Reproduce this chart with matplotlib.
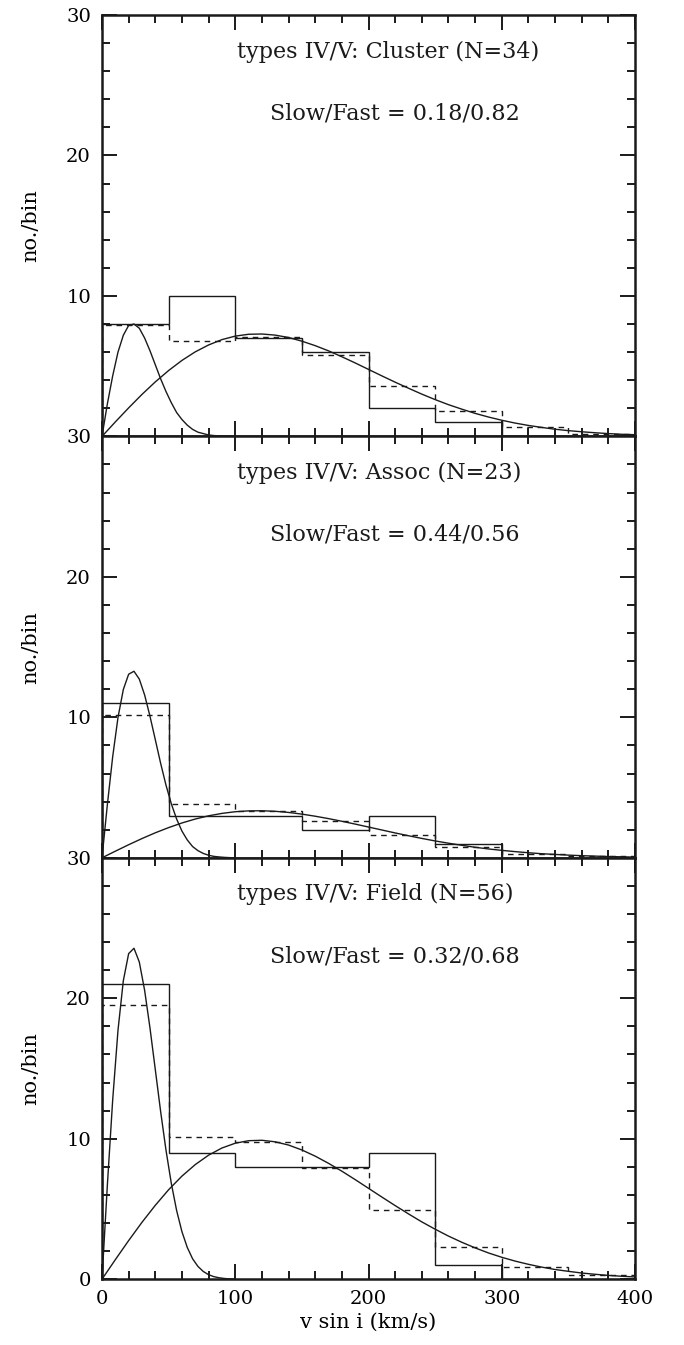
import numpy as np
import matplotlib
matplotlib.use('Agg')
import matplotlib.pyplot as plt
from matplotlib.ticker import MultipleLocator

plt.rcParams['font.family'] = ['DejaVu Serif']

# histogram bin edges (km/s)
edges = [0, 50, 100, 150, 200, 250, 300, 350, 400]

# observed counts (solid) and model counts (dashed) per panel
cluster_obs = [8, 10, 7, 6, 2, 1, 0, 0]
cluster_mod = [7.9, 6.8, 7.1, 5.8, 3.6, 1.8, 0.7, 0.2]
assoc_obs = [11, 3, 3, 2, 3, 1, 0, 0]
assoc_mod = [10.2, 3.8, 3.3, 2.6, 1.6, 0.8, 0.3, 0.1]
field_obs = [21, 9, 8, 8, 9, 1, 0, 0]
field_mod = [19.5, 10.1, 9.8, 7.9, 4.9, 2.3, 0.85, 0.3]

# slow component curves, read at v = 0, 4, ..., 100
v_slow = list(range(0, 101, 4))
cluster_slow = [0, 2.3, 4.3, 6.0, 7.2, 7.9, 8.0, 7.7, 7.0, 6.1, 5.1, 4.1, 3.2,
                2.4, 1.7, 1.2, 0.8, 0.5, 0.3, 0.2, 0.1, 0.06, 0.03, 0.02, 0.01, 0.0]
assoc_slow = [0, 3.76, 7.18, 9.99, 11.98, 13.07, 13.28, 12.72, 11.59, 10.08, 8.41,
              6.73, 5.18, 3.85, 2.76, 1.90, 1.27, 0.80, 0.51, 0.31, 0.18, 0.10,
              0.06, 0.03, 0.01, 0.0]
field_slow = [0, 6.66, 12.74, 17.72, 21.25, 23.18, 23.56, 22.58, 20.56, 17.89,
              14.92, 11.94, 9.20, 6.83, 4.89, 3.38, 2.26, 1.45, 0.91, 0.55, 0.32,
              0.18, 0.10, 0.05, 0.02, 0.01]

# fast component curves, read at v = 0, 10, ..., 400
v_fast = list(range(0, 401, 10))
cluster_fast = [0, 1.03, 2.03, 2.99, 3.88, 4.69, 5.41, 6.02, 6.51, 6.89, 7.14, 7.27,
                7.29, 7.21, 7.04, 6.78, 6.46, 6.09, 5.67, 5.23, 4.77, 4.31, 3.86,
                3.43, 3.01, 2.62, 2.26, 1.94, 1.64, 1.38, 1.15, 0.95, 0.78, 0.64,
                0.51, 0.41, 0.33, 0.26, 0.20, 0.15, 0.12]
assoc_fast = [0, 0.47, 0.93, 1.37, 1.78, 2.15, 2.48, 2.76, 2.99, 3.16, 3.28, 3.34,
              3.35, 3.31, 3.23, 3.11, 2.96, 2.79, 2.60, 2.40, 2.19, 1.98, 1.77,
              1.57, 1.38, 1.20, 1.04, 0.89, 0.75, 0.63, 0.53, 0.44, 0.36, 0.29,
              0.24, 0.19, 0.15, 0.12, 0.09, 0.07, 0.05]
field_fast = [0, 1.39, 2.75, 4.05, 5.26, 6.37, 7.34, 8.16, 8.83, 9.34, 9.68, 9.86,
              9.89, 9.78, 9.55, 9.20, 8.76, 8.25, 7.69, 7.09, 6.47, 5.85, 5.24,
              4.65, 4.08, 3.56, 3.07, 2.63, 2.23, 1.87, 1.56, 1.29, 1.06, 0.86,
              0.69, 0.56, 0.44, 0.35, 0.27, 0.21, 0.16]

titles = ['types IV/V: Cluster (N=34)', 'types IV/V: Assoc (N=23)',
          'types IV/V: Field (N=56)']
ratios = ['Slow/Fast = 0.18/0.82', 'Slow/Fast = 0.44/0.56',
          'Slow/Fast = 0.32/0.68']

panels = [
    (cluster_obs, cluster_mod, cluster_slow, cluster_fast),
    (assoc_obs, assoc_mod, assoc_slow, assoc_fast),
    (field_obs, field_mod, field_slow, field_fast),
]

fig = plt.figure(figsize=(6.84, 13.45), dpi=100)
left, width = 102 / 684, 533 / 684
top = 1 - 15 / 1345
ph = 421.4 / 1345

ink = '#1a1a1a'
for i, (obs, mod, slow, fast) in enumerate(panels):
    ax = fig.add_axes([left, top - (i + 1) * ph, width, ph])
    ax.stairs(obs, edges, color=ink, lw=1.0)
    ax.stairs(mod, edges, color=ink, lw=1.0, linestyle=(0, (4, 3.5)))
    ax.plot(v_slow, slow, color=ink, lw=1.0)
    ax.plot(v_fast, fast, color=ink, lw=1.0)

    ax.set_xlim(0, 400)
    ax.set_ylim(0, 30)
    ax.xaxis.set_major_locator(MultipleLocator(100))
    ax.xaxis.set_minor_locator(MultipleLocator(20))
    ax.yaxis.set_major_locator(MultipleLocator(10))
    ax.yaxis.set_minor_locator(MultipleLocator(2))
    ax.tick_params(which='both', direction='in', top=True, right=True,
                   width=1.4, color=ink, labelsize=14)
    ax.tick_params(which='major', length=11)
    ax.tick_params(which='minor', length=6)
    ax.tick_params(axis='y', pad=8)
    ax.tick_params(axis='x', pad=8)
    for s in ax.spines.values():
        s.set_linewidth(1.8)
        s.set_color(ink)

    ax.set_yticks([0, 10, 20, 30])
    if i < 2:
        # the 0 label is covered by the 30 of the panel below
        ax.set_yticklabels(['', '10', '20', '30'])
        ax.tick_params(axis='x', labelbottom=False)
    else:
        ax.set_xlabel('v sin i (km/s)', fontsize=15, labelpad=3)

    ax.set_ylabel('no./bin', fontsize=15)
    ax.yaxis.set_label_coords(-0.115, 0.5)

    ax.text(101, 27.4, titles[i], fontsize=16, ha='left', va='center', color=ink)
    ax.text(126, 23.0, ratios[i], fontsize=16, ha='left', va='center', color=ink)

plt.savefig('out.png', dpi=100)
